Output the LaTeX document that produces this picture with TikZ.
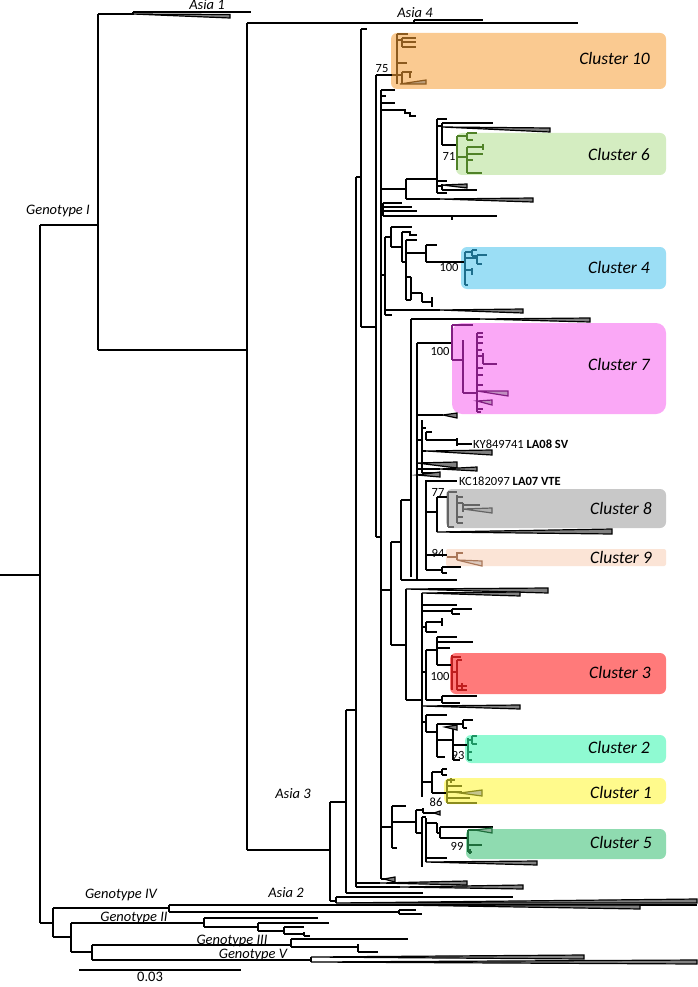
\documentclass[tikz,border=0pt]{standalone}
\usepackage{fontspec}
\setmainfont{Carlito}
\definecolor{c10}{RGB}{250,202,145}
\definecolor{c6}{RGB}{212,237,193}
\definecolor{c4}{RGB}{155,222,245}
\definecolor{c7}{RGB}{250,168,246}
\definecolor{c8}{RGB}{200,200,200}
\definecolor{c9}{RGB}{251,228,214}
\definecolor{c3}{RGB}{255,122,122}
\definecolor{c2}{RGB}{143,250,210}
\definecolor{c1}{RGB}{255,250,140}
\definecolor{c5}{RGB}{143,219,176}
\definecolor{t10}{RGB}{140,90,30}
\definecolor{t6}{RGB}{80,130,40}
\definecolor{t4}{RGB}{30,110,140}
\definecolor{t7}{RGB}{130,30,130}
\definecolor{t8}{RGB}{100,100,100}
\definecolor{t9}{RGB}{170,120,90}
\definecolor{t3}{RGB}{190,30,30}
\definecolor{t2}{RGB}{30,150,100}
\definecolor{t1}{RGB}{140,140,30}
\definecolor{t5}{RGB}{30,110,60}
\begin{document}
\begin{tikzpicture}[x=1pt,y=-1pt,
  tl/.style={line width=1.2pt},
  wg/.style={tl,fill=black!50},
  cbox/.style={rounded corners=6pt},
  clab/.style={font=\fontsize{17.5}{20}\selectfont\itshape,anchor=base east,inner sep=0pt},
  glab/.style={font=\fontsize{14.5}{17}\selectfont\itshape,anchor=base,inner sep=0pt},
  bs/.style={font=\fontsize{12.5}{14}\selectfont,anchor=base,inner sep=0pt},
  acc/.style={font=\fontsize{12.5}{14}\selectfont,anchor=base west,inner sep=0pt}]
\useasboundingbox (0,0) rectangle (697,987);
\fill[white] (0,0) rectangle (697,987);
% cluster boxes
\fill[c10,cbox] (391,33) rectangle (666,89);
\fill[c6,cbox] (456,133) rectangle (666,175);
\fill[c4,cbox] (461,247) rectangle (666,289);
\fill[c7,rounded corners=10pt] (452,323) rectangle (666,414);
\fill[c8,cbox] (446,489) rectangle (666,528);
\fill[c9,rounded corners=2pt] (446,549) rectangle (666,566);
\fill[c3,cbox] (450,653) rectangle (666,694);
\fill[c2,cbox] (465,735) rectangle (666,763);
\fill[c1,cbox] (444,778) rectangle (666,804);
\fill[c5,cbox] (466,829) rectangle (666,859);
% backbone
\draw[tl] (0,575)--(40,575) (40,225)--(40,923) (40,225)--(98,225)
  (98,14)--(98,350) (98,14)--(133,14) (133,12)--(251,12) (133,12)--(133,15)
  (98,350)--(247,350) (247,23)--(247,850)
  (247,23)--(578,23) (414,20)--(414,23) (414,20)--(483,20)
  (247,850)--(330,850) (330,802)--(330,901) (330,901)--(336,901)
  (336,897)--(336,903) (336,897)--(513,897)
  (330,802)--(346,802) (346,710)--(346,893) (346,893)--(423,893)
  (346,710)--(356,710) (356,177)--(356,887) (356,883)--(380,883) (356,887)--(400,887)
  (356,177)--(361,177) (361,29)--(361,327) (361,29)--(367,29) (361,327)--(376,327)
  (376,75)--(376,537) (376,75)--(392,75) (376,537)--(381,537) (381,90)--(381,879);
\draw[wg] (133,14)--(230,14.5)--(230,18)--cycle;
\draw[wg] (336,903)--(697,899)--(697,903)--cycle;
\draw[wg] (380,883)--(467,881)--(467,885)--cycle;
\draw[wg] (400,887)--(523,885)--(523,889)--cycle;
\draw[tl] (381,879)--(387,879);
\draw[wg] (384,879)--(395,877)--(395,882)--cycle;
% other genotypes
\draw[tl] (40,923)--(53,923) (53,908)--(53,937) (53,908)--(169,908)
  (169,905)--(169,912) (169,905)--(697,905) (169,912)--(399,912)
  (399,910)--(399,914) (399,910)--(416,910) (399,914)--(422,914)
  (53,937)--(71,937) (71,923)--(71,952) (71,923)--(204,923)
  (204,918)--(204,927) (204,918)--(318,918) (204,927)--(258,927)
  (258,923)--(258,931) (258,923)--(329,923) (258,931)--(284,931)
  (284,927)--(284,934) (284,927)--(304,927) (284,934)--(304,934)
  (304,932)--(304,936) (304,936)--(310,936)
  (71,952)--(92,952) (92,945)--(92,960) (92,945)--(291,945)
  (291,939)--(291,947) (291,939)--(408,939) (291,947)--(358,947)
  (358,944)--(358,952) (358,952)--(378,952)
  (92,960)--(311,960) (311,957)--(311,962);
\draw[wg] (400,905)--(640,905)--(640,909)--cycle;
\draw[wg] (311,957)--(584,955)--(584,959)--cycle;
\draw[wg] (311,962)--(697,960)--(697,964)--cycle;
\draw[tl] (79,970)--(241,970);
% cluster 10
\draw[tl,t10] (392,75)--(397,75) (397,34)--(397,84) (397,34)--(408,34)
  (397,40)--(402,40) (402,38)--(402,47) (402,38)--(416,38) (402,42)--(416,42) (402,47)--(416,47)
  (397,63)--(407,63) (397,75)--(402,75) (402,72)--(402,84) (402,72)--(412,72) (410,72)--(410,78);
\draw[tl,t10,fill=t10!60] (400,84)--(426,80)--(426,84)--cycle;
% top twigs
\draw[tl] (381,90)--(395,90) (381,96)--(386,96) (381,103)--(395,103)
  (381,110)--(405,110)--(405,113)--(410,113)--(410,116)--(416,116);
% cluster 6 area
\draw[tl] (381,189)--(406,189) (406,179)--(406,199) (406,179)--(437,179)
  (437,119)--(437,193) (437,119)--(447,119) (437,126)--(442,126)
  (442,123)--(442,145) (442,123)--(493,123) (442,145)--(457,145)
  (437,181)--(447,181) (437,186)--(442,186) (442,184)--(442,190)
  (442,190)--(477,190) (437,193)--(447,193) (406,199)--(440,199);
\draw[wg] (442,127)--(550,128)--(550,132)--cycle;
\draw[wg] (442,185)--(467,184)--(467,188)--cycle;
\draw[wg] (440,199)--(533,198)--(533,202)--cycle;
\draw[tl,t6] (457,136)--(457,170) (457,136)--(467,136) (467,133)--(467,140)
  (467,133)--(477,133) (467,140)--(473,140) (457,157)--(467,157)
  (467,147)--(467,173) (467,147)--(483,147) (483,144)--(483,150)
  (467,154)--(483,154) (467,160)--(473,160) (467,173)--(482,173);
% twigs 203-216
\draw[tl] (381,210)--(383,210) (383,203)--(383,216) (383,203)--(402,203) (383,207)--(412,207)
  (383,211)--(417,211) (383,216)--(497,216) (452,216)--(452,220);
% cluster 4 area
\draw[tl] (381,275)--(385,275) (385,237)--(385,315) (385,237)--(391,237)
  (391,227)--(391,247) (391,227)--(412,227) (391,247)--(402,247)
  (402,232)--(402,262) (402,232)--(410,232)--(410,235)--(417,235) (402,262)--(406,262)
  (406,240)--(406,300) (406,240)--(417,240) (406,253)--(426,253)
  (426,245)--(426,262) (426,245)--(437,245) (426,262)--(465,262)
  (406,277)--(411,277) (411,277)--(411,300) (411,293)--(422,293)
  (422,293)--(422,302) (422,302)--(432,302) (432,297)--(432,307) (406,300)--(411,300)
  (385,310)--(440,310) (385,315)--(392,315);
\draw[wg] (440,310)--(523,309)--(523,313)--cycle;
\draw[tl,t4] (465,252)--(465,285) (465,252)--(472,252) (472,250)--(472,256)
  (472,250)--(477,250) (472,256)--(477,256) (465,258)--(477,258)
  (477,255)--(477,264) (477,255)--(487,255) (477,264)--(482,264)
  (465,270)--(472,270) (472,268)--(472,275) (465,285)--(468,285);
% cluster 7 area
\draw[tl] (411,319)--(411,577) (411,319)--(480,319) (417,343)--(417,580)
  (417,343)--(452,343) (417,415)--(443,415);
\draw[wg] (480,319)--(590,318)--(590,322)--cycle;
\draw[wg] (443,415)--(457,413)--(457,418)--cycle;
\draw[tl,t7] (452,325)--(452,360) (452,325)--(473,325) (452,360)--(463,360)
  (463,340)--(463,393) (463,393)--(477,393) (477,333)--(477,412)
  (477,333)--(483,333) (477,337)--(483,337) (477,343)--(483,343) (477,350)--(482,350)
  (477,356)--(483,356) (483,353)--(483,364) (483,364)--(497,364)
  (477,368)--(483,368) (477,375)--(483,375) (477,385)--(483,385)
  (477,409)--(483,409) (477,412)--(481,412);
\draw[tl,t7,fill=t7!50] (477,391)--(508,391)--(508,396)--cycle;
\draw[tl,t7,fill=t7!50] (477,401)--(492,400)--(492,405)--cycle;
% KY / KC area
\draw[tl] (417,440)--(422,440) (422,420)--(422,473) (422,428)--(426,428)
  (426,432)--(426,440) (426,432)--(432,432) (426,440)--(457,440)
  (457,438)--(457,446) (457,444)--(472,444) (422,451)--(426,451)
  (417,469)--(440,469) (422,473)--(437,473)
  (426,480)--(426,570) (426,481)--(457,481) (426,512)--(437,512)
  (437,497)--(437,532) (437,497)--(448,497)
  (426,555)--(447,555) (426,570)--(442,570) (442,567)--(442,573)
  (442,567)--(461,567) (442,573)--(447,573) (401,580)--(457,580);
\draw[wg] (426,451)--(492,450)--(492,455)--cycle;
\draw[wg] (417,463)--(457,462)--(457,468)--cycle;
\draw[wg] (440,469)--(477,467)--(477,471)--cycle;
\draw[wg] (417,475)--(440,472)--(440,477)--cycle;
\draw[wg] (437,532)--(612,529)--(612,534)--cycle;
\draw[tl,t8] (448,492)--(448,527) (448,492)--(457,492) (457,495)--(457,523)
  (457,497)--(463,497) (457,503)--(463,503) (463,503)--(463,512) (463,505)--(480,505)
  (457,517)--(463,517) (457,523)--(463,523) (448,527)--(454,527);
\draw[tl,t8,fill=t8!50] (463,509)--(492,508)--(492,513)--cycle;
\draw[tl,t9] (447,557)--(457,557)--(457,553)--(463,553) (457,553)--(457,560);
\draw[tl,t9,fill=t9!40] (457,560)--(482,561)--(482,566)--cycle;
% middle ladder
\draw[tl] (401,500)--(411,500) (401,500)--(401,580) (391,542)--(401,542)
  (391,542)--(391,645) (381,590)--(391,590) (391,645)--(406,645)
  (406,589)--(406,700) (406,700)--(422,700) (422,593)--(422,797)
  (422,605)--(457,605) (422,611)--(452,611) (452,609)--(452,614)
  (452,609)--(472,609) (452,614)--(460,614)
  (422,627)--(426,627) (426,622)--(426,632) (426,622)--(442,622) (442,618)--(442,626)
  (426,632)--(437,632)
  (422,672)--(426,672) (426,650)--(426,700) (426,650)--(437,650)
  (437,637)--(437,665) (437,637)--(457,637) (437,642)--(473,642) (437,648)--(450,648)
  (437,665)--(452,665)
  (426,700)--(442,700) (442,696)--(442,703) (442,696)--(477,696) (442,703)--(460,703)
  (422,722)--(426,722) (426,715)--(426,732) (426,715)--(447,715) (426,732)--(437,732)
  (437,724)--(437,757) (437,724)--(463,724) (463,720)--(463,728) (463,720)--(473,720)
  (463,728)--(467,728) (437,740)--(453,740) (453,728)--(453,760) (453,745)--(468,745)
  (453,760)--(460,760) (437,757)--(445,757)
  (422,782)--(432,782) (432,772)--(432,793) (432,772)--(442,772)
  (442,769)--(442,775) (442,769)--(447,769) (442,775)--(447,775) (432,793)--(447,793);
\draw[wg] (406,589)--(548,588)--(548,593)--cycle;
\draw[wg] (422,593)--(520,592)--(520,596)--cycle;
\draw[wg] (422,706)--(520,705)--(520,709)--cycle;
\draw[wg] (445,727)--(457,725)--(457,730)--cycle;
\draw[tl,t3] (452,655)--(452,690) (452,657)--(461,657) (452,672)--(457,672)
  (457,660)--(457,690) (457,660)--(462,660) (457,686)--(467,686)
  (462,683)--(462,689) (457,690)--(467,690);
\draw[tl,t2] (468,738)--(468,760) (468,740)--(472,740) (472,736)--(472,744)
  (472,736)--(477,736) (472,744)--(477,744) (468,752)--(472,752) (468,760)--(472,760);
\draw[tl,t1] (447,780)--(447,803) (447,780)--(455,780) (451,778)--(451,783)
  (447,786)--(462,786) (447,792)--(462,792) (447,798)--(470,798) (447,803)--(477,803);
\draw[tl,t1,fill=t1!50] (460,793)--(482,790)--(482,796)--cycle;
% cluster 5 area
\draw[tl] (381,827)--(392,827) (392,806)--(392,848) (392,806)--(406,806)
  (392,822)--(416,822) (392,848)--(397,848)
  (416,810)--(416,833) (416,810)--(423,810) (423,808)--(423,813) (423,813)--(440,813)
  (416,833)--(422,833) (422,817)--(422,867) (422,817)--(426,817)
  (426,818)--(426,862) (426,823)--(437,823) (437,823)--(437,833) (437,833)--(440,833)
  (440,827)--(440,838) (440,827)--(493,827) (440,838)--(468,838)
  (426,858)--(447,858);
\draw[wg] (434,813)--(440,811)--(440,815)--cycle;
\draw[wg] (426,862)--(537,861)--(537,865)--cycle;
\draw[tl,t5] (468,830)--(468,852) (468,830)--(492,830) (468,845)--(482,845)
  (468,852)--(472,852) (470,849)--(470,854);
\draw[tl,t5,fill=t5!50] (475,830)--(492,828)--(492,833)--cycle;
% labels
\node[glab] (asia1) at (207,9.5) {Asia 1};
\node[glab] (asia4) at (415,18) {Asia 4};
\node[glab] (g1) at (58,214) {Genotype I};
\node[glab] (asia3) at (293,798) {Asia 3};
\node[glab] (asia2) at (286,897) {Asia 2};
\node[glab] (g4) at (121,898) {Genotype IV};
\node[glab] (g2) at (134,921) {Genotype II};
\node[glab] (g3) at (232,944) {Genotype III};
\node[glab] (g5) at (253,958) {Genotype V};
\node[glab,font=\fontsize{14.5}{17}\selectfont] (scale) at (150,981) {0.03};
\node[clab] (l10) at (650,65) {Cluster 10};
\node[clab] (l6) at (650,161) {Cluster 6};
\node[clab] (l4) at (650,273) {Cluster 4};
\node[clab] (l7) at (650,370) {Cluster 7};
\node[clab] (l8) at (652,514) {Cluster 8};
\node[clab] (l9) at (652,563) {Cluster 9};
\node[clab] (l3) at (651,678) {Cluster 3};
\node[clab] (l2) at (650,753) {Cluster 2};
\node[clab] (l1) at (652,798) {Cluster 1};
\node[clab] (l5) at (652,848) {Cluster 5};
\node[bs] (b75) at (382,73) {75};
\node[bs] (b71) at (449,161) {71};
\node[bs] (b100a) at (449,271) {100};
\node[bs] (b100b) at (440,355) {100};
\node[bs] (b77) at (438,496) {77};
\node[bs] (b94) at (438,557) {94};
\node[bs] (b100c) at (440,680) {100};
\node[bs] (b93) at (458,759) {93};
\node[bs] (b86) at (436,806) {86};
\node[bs] (b99) at (457,850) {99};
\node[acc] (ky) at (473,448) {KY849741 \textbf{LA08 SV}};
\node[acc] (kc) at (459,485) {KC182097 \textbf{LA07 VTE}};
\end{tikzpicture}
\end{document}
